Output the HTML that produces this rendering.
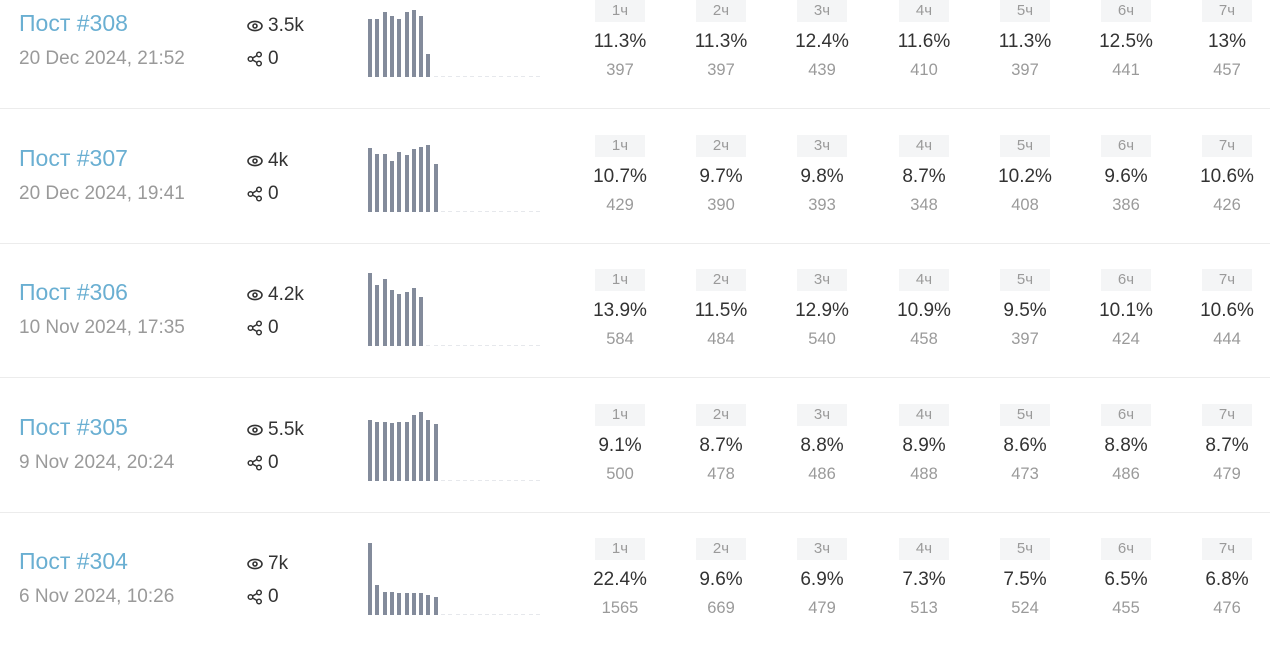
<!DOCTYPE html>
<html><head><meta charset="utf-8">
<style>
body{margin:0;width:1270px;height:654px;background:#fff;overflow:hidden;font-family:"Liberation Sans","Noto Sans CJK SC",sans-serif;position:relative}
.a{position:absolute;white-space:nowrap}
.title{color:#6aafd2;font-size:23px}
.date{color:#9a9a9a;font-size:19px}
.stat{color:#333;font-size:19px}
.hb{background:#f4f5f6;color:#9a9a9a;font-size:15px;text-align:center;width:50px;height:22px;line-height:22px}
.pct{color:#333;font-size:19px;text-align:center;width:80px}
.cnt{color:#9a9a9a;font-size:16.5px;text-align:center;width:80px}
.sep{height:1px;background:#ececec;left:0;width:1270px}
.bar{background:#838b9b;width:4px}
</style></head><body>
<script>
const titles=["Пост #308","Пост #307","Пост #306","Пост #305","Пост #304"];
const dates=["20 Dec 2024, 21:52","20 Dec 2024, 19:41","10 Nov 2024, 17:35","9 Nov 2024, 20:24","6 Nov 2024, 10:26"];
const views=["3.5k","4k","4.2k","5.5k","7k"];
const shares=["0","0","0","0","0"];
const hours=["1ч","2ч","3ч","4ч","5ч","6ч","7ч"];
const pcts=[["11.3%","11.3%","12.4%","11.6%","11.3%","12.5%","13%"],["10.7%","9.7%","9.8%","8.7%","10.2%","9.6%","10.6%"],["13.9%","11.5%","12.9%","10.9%","9.5%","10.1%","10.6%"],["9.1%","8.7%","8.8%","8.9%","8.6%","8.8%","8.7%"],["22.4%","9.6%","6.9%","7.3%","7.5%","6.5%","6.8%"]];
const counts=[["397","397","439","410","397","441","457"],["429","390","393","348","408","386","426"],["584","484","540","458","397","424","444"],["500","478","486","488","473","486","479"],["1565","669","479","513","524","455","476"]];
const bars=[[58,58,65,61,58,65,67,61,23],[64,58,58,51,60,57,63,65,67,48],[73,61,67,56,52,54,58,49],[61,59,59,58,59,59,66,69,61,57],[72,30,23,23,22,22,22,22,20,18]];
const rowH=134.6, colX=[620,721,822,924,1025,1126,1227];
function mk(cls,x,y,txt,name){const d=document.createElement('div');d.className='a '+cls;d.style.left=x+'px';d.style.top=y+'px';if(txt!==undefined)d.textContent=txt;


document.body.appendChild(d);return d;}
const eye='<svg width="16" height="12" viewBox="0 0 16 12" style="vertical-align:middle;margin-right:5px"><ellipse cx="8" cy="6" rx="7" ry="4.6" fill="none" stroke="#333" stroke-width="1.6"/><circle cx="8" cy="6" r="2" fill="none" stroke="#333" stroke-width="1.6"/></svg>';
const shr='<svg width="16" height="16" viewBox="0 0 16 16" style="vertical-align:middle;margin-right:5px"><circle cx="3.5" cy="8" r="2.3" fill="none" stroke="#333" stroke-width="1.5"/><circle cx="12" cy="3.5" r="2.3" fill="none" stroke="#333" stroke-width="1.5"/><circle cx="12" cy="12.5" r="2.3" fill="none" stroke="#333" stroke-width="1.5"/><path d="M5.6 7 L10 4.5 M5.6 9 L10 11.5" stroke="#333" stroke-width="1.5"/></svg>';
for(let r=0;r<titles.length;r++){
 const oy=r*rowH;
 const t=mk('title',19,oy+10,titles[r],'post-title');
 
 mk('date',19,oy+48,dates[r],'post-date');
 const v=mk('stat',247,oy+15,undefined,'views-count');v.innerHTML=eye+views[r];
 const s=mk('stat',247,oy+48,undefined,'shares-count');s.innerHTML=shr+shares[r];
 const base=oy+77;
 bars[r].forEach((h,i)=>{const b=mk('bar',368+i*7.3,base-h,undefined,'hourly-bar');b.style.height=h+'px';});
 for(let k=bars[r].length;k<24;k++){const d=mk('bar',368+k*7.3,base-1,undefined,'empty-bar');d.style.height='1px';d.style.background='#e6e8ec';}
 hours.forEach((h,i)=>{
  mk('hb',colX[i]-25,oy,h,'hour-label');
  mk('pct',colX[i]-40,oy+31,pcts[r][i],'hour-percent');
  mk('cnt',colX[i]-40,oy+61,counts[r][i],'hour-count');
 });
 if(r<titles.length-1)mk('sep',0,oy+108,undefined,'row-separator');
}
</script>
</body></html>
